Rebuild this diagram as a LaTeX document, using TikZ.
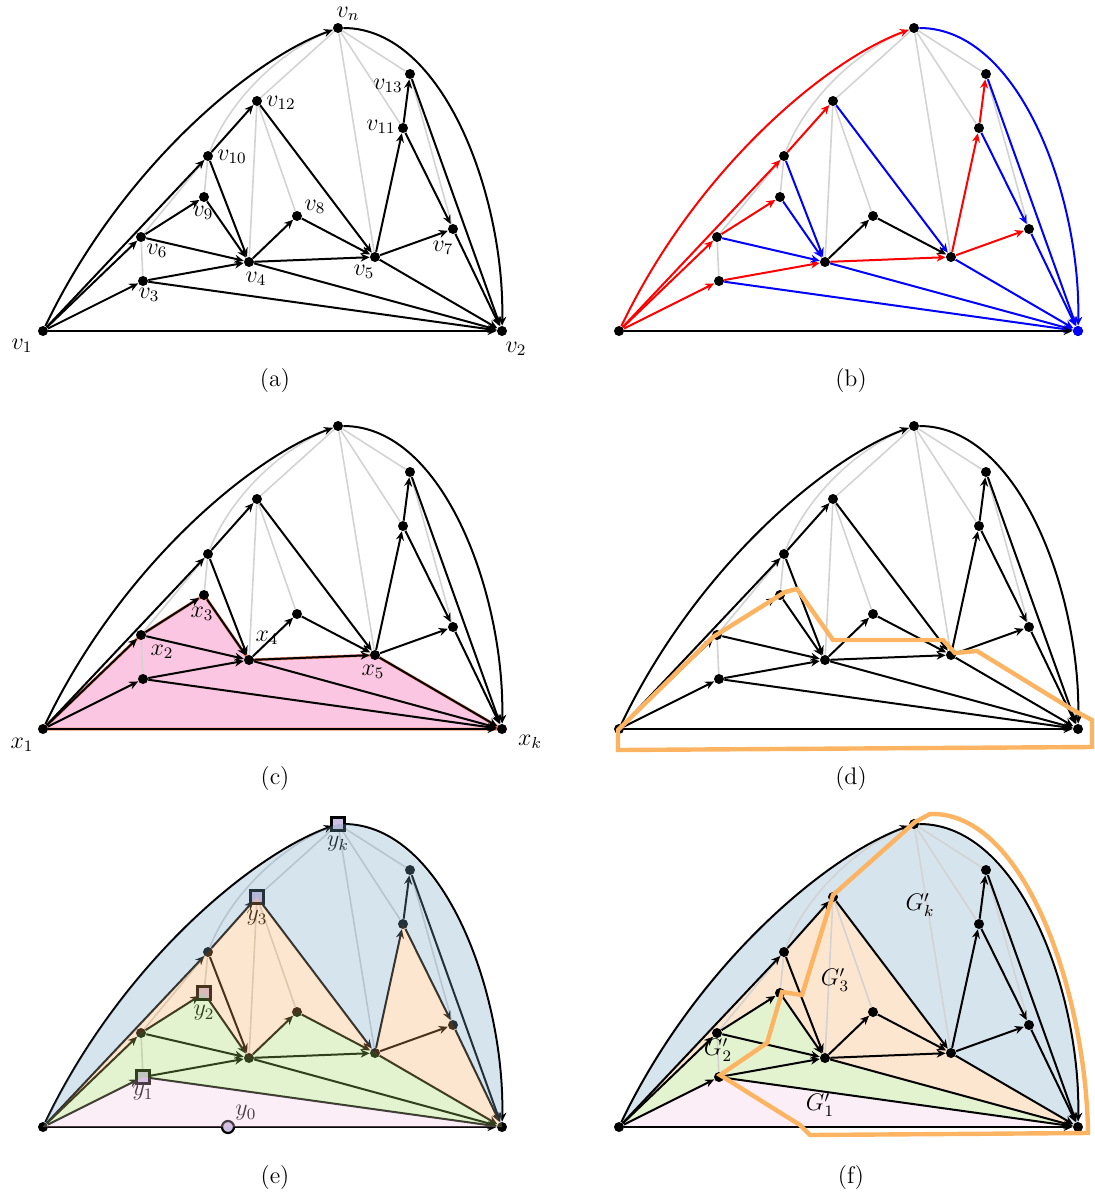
\documentclass[tikz,border=0pt]{standalone}
\usetikzlibrary{arrows.meta,calc,backgrounds}

\definecolor{edgegray}{RGB}{211,211,211}
\definecolor{salmonline}{RGB}{245,140,112}
\definecolor{pinkfill}{RGB}{250,198,226}
\definecolor{cutorange}{RGB}{253,180,98}
\definecolor{regblue}{RGB}{118,165,198}
\definecolor{regorange}{RGB}{248,172,95}
\definecolor{reggreen}{RGB}{162,215,98}
\definecolor{regpink}{RGB}{245,198,225}
\definecolor{markfill}{RGB}{205,192,228}

\tikzset{
  vtx/.style={circle,fill=black,inner sep=0pt,minimum size=5pt},
  arc/.style={line width=1pt,-{Stealth[length=4.5pt,width=4pt]}},
  redarc/.style={arc},
  bluearc/.style={arc},
  blackarc/.style={arc},
  grayarc/.style={line width=0.8pt,edgegray},
  lbl/.style={font=\fontsize{12}{14}\selectfont,inner sep=0pt},
  caption/.style={font=\fontsize{12}{14}\selectfont},
  region/.style={fill opacity=0.3},
  ymark/.style={draw=black,line width=1.1pt,fill=markfill,inner sep=0pt,minimum size=6.5pt},
  cut/.style={cutorange,line width=2.2pt},
}

% the st-graph, #1 = panel prefix
\newcommand{\drawgraph}[1]{%
  \foreach \n/\px/\py in {1/43/331,2/502/331,n/338/28,3/143/281,4/249/262,5/375/257,6/141/237,
      7/453/229,8/297/216,9/204/197,10/208/156,11/403/128,12/257/101,13/410/74}
    \node[vtx] (#1-\n) at (\px,\py) {};
  % chords that are not used
  \foreach \src/\dst in {3/6,6/10,9/10,12/n,12/4,12/8,n/5,n/11,n/13,13/7}
    \draw[grayarc] (#1-\src) -- (#1-\dst);
  \draw[grayarc] (#1-10) .. controls +(22,-56) and +(-58,22) .. (#1-n);
  % oriented edges
  \foreach \src/\dst in {1/10,1/6,1/3,6/9,10/12,3/4,4/5,5/11,11/13,5/7}
    \draw[redarc] (#1-\src) -- (#1-\dst);
  \foreach \src/\dst in {10/4,9/4,6/4,12/5,3/2,4/2,5/2,11/7,13/2,7/2}
    \draw[bluearc] (#1-\src) -- (#1-\dst);
  \foreach \src/\dst in {1/2,4/8,8/5}
    \draw[blackarc] (#1-\src) -- (#1-\dst);
  \draw[redarc] (#1-1) .. controls +(77,-161) and +(-88,32) .. (#1-n);
  \draw[bluearc] (#1-n) .. controls +(107,0) and +(3,-131) .. (#1-2);
}

\begin{document}
\begin{tikzpicture}[x=0.5pt,y=-0.5pt]
\useasboundingbox (0,0) rectangle (1094,1199);

% (a)
\begin{scope}
  \drawgraph{a}
  \foreach \n/\dx/\dy in {1/-21/15,2/14/18,n/10/-14,13/-22/12,12/24/2,11/-22/-1,10/24/1,
      9/-1/16,8/18/-9,6/16/14,4/7/17,5/-11/15,7/-10/19,3/6/14}
    \node[lbl] (a-l\n) at ($(a-\n)+(\dx,\dy)$) {$v_{\n}$};
  \node[caption] (cap-a) at (275,381) {(a)};
\end{scope}

% (b)
\begin{scope}[shift={(576,0)},redarc/.style={arc,red},bluearc/.style={arc,blue}]
  \drawgraph{b}
  \node[vtx,fill=blue] (b-2s) at (b-2) {};
  \node[caption] (cap-b) at (275,381) {(b)};
\end{scope}

% (c)
\begin{scope}[shift={(0,398)}]
  \drawgraph{c}
  \begin{pgfonlayer}{background}
    \filldraw[fill=pinkfill,draw=salmonline,line width=1.5pt,line join=round]
      (c-1.center) -- (c-6.center) -- (c-9.center) -- (c-4.center) -- (c-5.center)
      -- (c-2.center) -- cycle;
  \end{pgfonlayer}
  \node[lbl] (c-x1) at ($(c-1)+(-21,16)$) {$x_1$};
  \node[lbl] (c-x2) at ($(c-6)+(21,17)$) {$x_2$};
  \node[lbl] (c-x3) at ($(c-9)+(-2,19)$) {$x_3$};
  \node[lbl] (c-x4) at ($(c-4)+(18,-22)$) {$x_4$};
  \node[lbl] (c-x5) at ($(c-5)+(-2,17)$) {$x_5$};
  \node[lbl] (c-xk) at ($(c-2)+(28,13)$) {$x_k$};
  \node[caption] (cap-c) at (275,381) {(c)};
\end{scope}

% (d)
\begin{scope}[shift={(576,398)}]
  \drawgraph{d}
  \draw[cut] (42,332) -- (137,239) -- (209,194) -- (221,191) -- (257,242) -- (367,242)
    -- (379,255) -- (401,253) -- (497,312) -- (516,322) -- (516,349) -- (42,352) -- cycle;
  \node[caption] (cap-d) at (275,381) {(d)};
\end{scope}

% (e)
\begin{scope}[shift={(0,796)}]
  \drawgraph{e}
  \node[ymark] (e-yk) at (e-n) {};
  \node[ymark] (e-y3) at (e-12) {};
  \node[ymark] (e-y2) at (e-9) {};
  \node[ymark] (e-y1) at (e-3) {};
  \node[ymark,circle,minimum size=6pt] (e-y0) at ($(e-1)!0.403!(e-2)$) {};
  \node[lbl] (e-lk) at ($(e-yk)+(0,20)$) {$y_k$};
  \node[lbl] (e-l3) at ($(e-y3)+(0,21)$) {$y_3$};
  \node[lbl] (e-l2) at ($(e-y2)+(0,20)$) {$y_2$};
  \node[lbl] (e-l1) at ($(e-y1)+(0,16)$) {$y_1$};
  \node[lbl] (e-l0) at ($(e-y0)+(18,-14)$) {$y_0$};
  \fill[region,regpink] (e-1.center) -- (e-3.center) -- (e-2.center) -- cycle;
  \fill[region,reggreen] (e-1.center) -- (e-3.center) -- (e-2.center) -- (e-5.center)
    -- (e-8.center) -- (e-4.center) -- (e-9.center) -- (e-6.center) -- cycle;
  \fill[region,regorange] (e-1.center) -- (e-6.center) -- (e-9.center) -- (e-4.center)
    -- (e-8.center) -- (e-5.center) -- (e-2.center) -- (e-7.center) -- (e-11.center)
    -- (e-5.center) -- (e-12.center) -- (e-10.center) -- cycle;
  \fill[region,regblue] (e-1.center) -- (e-10.center) -- (e-12.center) -- (e-5.center)
    -- (e-11.center) -- (e-7.center) -- (e-2.center)
    .. controls +(3,-131) and +(107,0) .. (e-n.center)
    .. controls +(-88,32) and +(77,-161) .. (e-1.center);
  \node[caption] (cap-e) at (275,381) {(e)};
\end{scope}

% (f)
\begin{scope}[shift={(576,796)}]
  \drawgraph{f}
  \begin{pgfonlayer}{background}
    \fill[region,regpink] (f-1.center) -- (f-3.center) -- (f-2.center) -- cycle;
    \fill[region,reggreen] (f-1.center) -- (f-3.center) -- (f-2.center) -- (f-4.center)
      -- (f-9.center) -- (f-6.center) -- cycle;
    \fill[region,regorange] (f-1.center) -- (f-6.center) -- (f-9.center) -- (f-4.center)
      -- (f-2.center) -- (f-5.center) -- (f-12.center) -- (f-10.center) -- cycle;
    \fill[region,regblue] (f-1.center) -- (f-10.center) -- (f-12.center) -- (f-5.center)
      -- (f-2.center) .. controls +(3,-131) and +(107,0) .. (f-n.center)
      .. controls +(-88,32) and +(77,-161) .. (f-1.center);
  \end{pgfonlayer}
  \draw[cut] (354,18) -- (339,26) -- (257,99) -- (226,199) -- (206,196) -- (191,247)
    -- (144,279) -- (224,329) -- (234,339) -- (512,337)
    .. controls (510,200) and (450,15) .. (354,18) -- cycle;
  \node[lbl] (f-gk) at (344,109) {$G'_k$};
  \node[lbl] (f-g3) at (259,184) {$G'_3$};
  \node[lbl] (f-g2) at (142,254) {$G'_2$};
  \node[lbl] (f-g1) at (244,309) {$G'_1$};
  \node[caption] (cap-f) at (275,381) {(f)};
\end{scope}
\end{tikzpicture}
\end{document}
